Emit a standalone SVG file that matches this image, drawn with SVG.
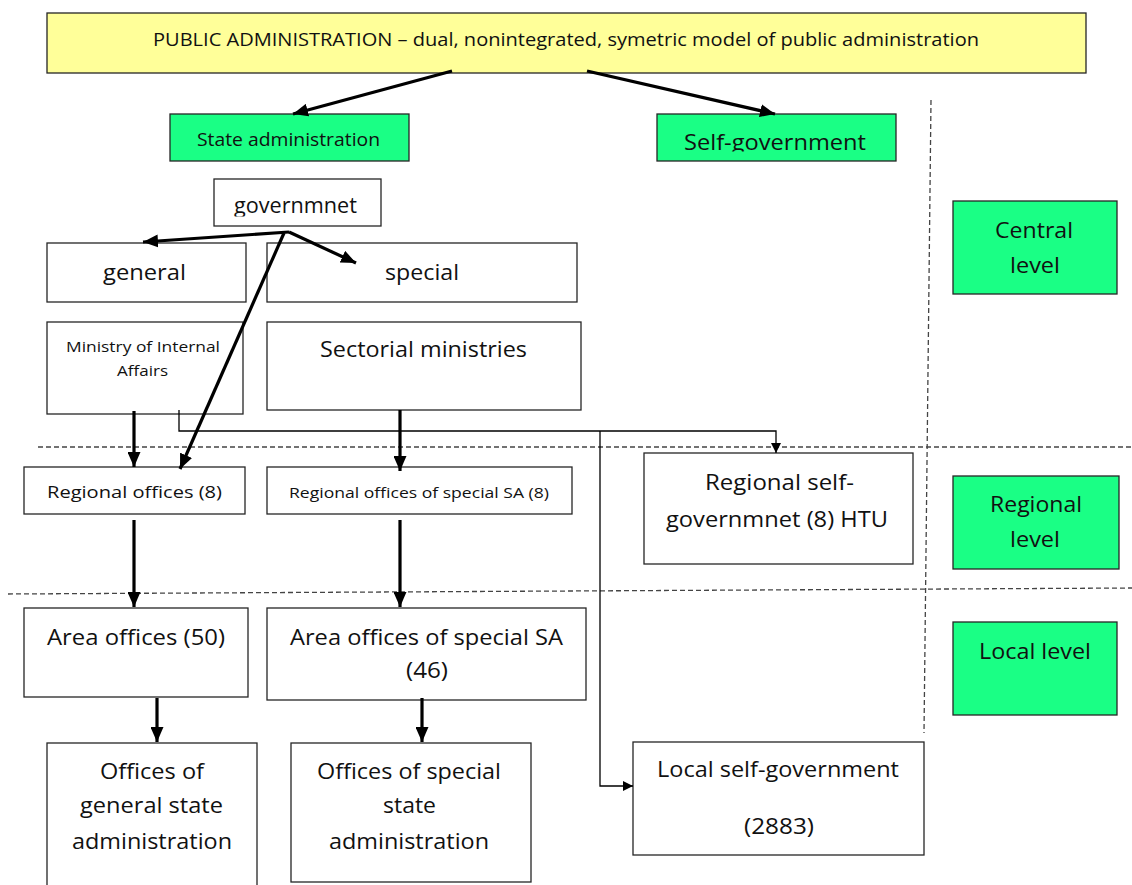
<svg xmlns="http://www.w3.org/2000/svg" width="1132" height="885" viewBox="0 0 1132 885">
<style>
.box{fill:#ffffff;stroke:#262626;stroke-width:1.3}
.green{fill:#1aff85;stroke:#262626;stroke-width:1.3}
.yellow{fill:#ffff99;stroke:#262626;stroke-width:1.3}
text{font-family:"Open Sans","Liberation Sans",sans-serif;fill:#111111}
.t21{font-size:21px}
.t18{font-size:18px}
.t16{font-size:16px}
.t15{font-size:15px}
.thick{fill:none;stroke:#000;stroke-width:3.2}
.thin{fill:none;stroke:#000;stroke-width:1.3}
.dash{fill:none;stroke:#444;stroke-width:1.3;stroke-dasharray:5 3}
</style>
<defs>
<marker id="ah" markerUnits="userSpaceOnUse" viewBox="0 0 15 13" refX="15" refY="6.5" markerWidth="15" markerHeight="13" orient="auto">
<path d="M0,0 L15,6.5 L0,13 z" fill="#000"/>
</marker>
<marker id="ahs" markerUnits="userSpaceOnUse" viewBox="0 0 10 10" refX="10" refY="5" markerWidth="10" markerHeight="10" orient="auto">
<path d="M0,0 L10,5 L0,10 z" fill="#000"/>
</marker>
<clipPath id="clipSelf"><rect x="657" y="114" width="239" height="37.5"/></clipPath>
<clipPath id="clipGov"><rect x="214" y="179" width="167" height="37.5"/></clipPath>
</defs>

<g id="dividers">
<path class="dash" d="M38,447 H1132"/>
<path class="dash" d="M8,594 L1132,588"/>
<path class="dash" d="M931,100 L924,733"/>
</g>

<g id="public-administration">
<rect class="yellow" x="47" y="13" width="1039" height="60"/>
<text class="t18" x="153" y="46" textLength="826" lengthAdjust="spacingAndGlyphs">PUBLIC ADMINISTRATION – dual, nonintegrated, symetric model of public administration</text>
</g>

<g id="state-administration">
<rect class="green" x="170" y="114" width="239" height="47"/>
<text class="t18" x="197" y="146" textLength="183" lengthAdjust="spacingAndGlyphs">State administration</text>
</g>

<g id="self-government">
<rect class="green" x="657" y="114" width="239" height="47"/>
<text class="t21" x="684" y="150" textLength="182" lengthAdjust="spacingAndGlyphs" clip-path="url(#clipSelf)">Self-government</text>
</g>

<g id="government">
<rect class="box" x="214" y="179" width="167" height="47"/>
<text class="t21" x="234" y="213" textLength="123" lengthAdjust="spacingAndGlyphs" clip-path="url(#clipGov)">governmnet</text>
</g>

<g id="general">
<rect class="box" x="47" y="243" width="199" height="59"/>
<text class="t21" x="103" y="280" textLength="83" lengthAdjust="spacingAndGlyphs">general</text>
</g>

<g id="special">
<rect class="box" x="267" y="243" width="310" height="59"/>
<text class="t21" x="385" y="280" textLength="74" lengthAdjust="spacingAndGlyphs">special</text>
</g>

<g id="ministry-internal">
<rect class="box" x="47" y="322" width="196" height="92"/>
<text class="t15" x="66" y="352" textLength="154" lengthAdjust="spacingAndGlyphs">Ministry of Internal</text>
<text class="t15" x="117" y="376" textLength="51" lengthAdjust="spacingAndGlyphs">Affairs</text>
</g>

<g id="sectorial-ministries">
<rect class="box" x="267" y="322" width="314" height="88"/>
<text class="t21" x="320" y="357" textLength="207" lengthAdjust="spacingAndGlyphs">Sectorial ministries</text>
</g>

<g id="regional-offices">
<rect class="box" x="24" y="467" width="221" height="47"/>
<text class="t16" x="47" y="498" textLength="175" lengthAdjust="spacingAndGlyphs">Regional offices (8)</text>
</g>

<g id="regional-offices-special">
<rect class="box" x="267" y="467" width="305" height="47"/>
<text class="t15" x="289" y="498" textLength="260" lengthAdjust="spacingAndGlyphs">Regional offices of special SA (8)</text>
</g>

<g id="regional-self-government">
<rect class="box" x="644" y="453" width="269" height="111"/>
<text class="t21" x="705" y="490" textLength="149" lengthAdjust="spacingAndGlyphs">Regional self-</text>
<text class="t21" x="666" y="527" textLength="222" lengthAdjust="spacingAndGlyphs">governmnet (8) HTU</text>
</g>

<g id="area-offices">
<rect class="box" x="24" y="608" width="224" height="89"/>
<text class="t21" x="47" y="645" textLength="178" lengthAdjust="spacingAndGlyphs">Area offices (50)</text>
</g>

<g id="area-offices-special">
<rect class="box" x="267" y="608" width="319" height="92"/>
<text class="t21" x="290" y="645" textLength="273" lengthAdjust="spacingAndGlyphs">Area offices of special SA</text>
<text class="t21" x="406" y="678" textLength="42" lengthAdjust="spacingAndGlyphs">(46)</text>
</g>

<g id="offices-general">
<rect class="box" x="47" y="743" width="210" height="150"/>
<text class="t21" x="100" y="779" textLength="104" lengthAdjust="spacingAndGlyphs">Offices of</text>
<text class="t21" x="80" y="813" textLength="143" lengthAdjust="spacingAndGlyphs">general state</text>
<text class="t21" x="72" y="849" textLength="160" lengthAdjust="spacingAndGlyphs">administration</text>
</g>

<g id="offices-special">
<rect class="box" x="291" y="743" width="240" height="139"/>
<text class="t21" x="317" y="779" textLength="184" lengthAdjust="spacingAndGlyphs">Offices of special</text>
<text class="t21" x="383" y="813" textLength="53" lengthAdjust="spacingAndGlyphs">state</text>
<text class="t21" x="329" y="849" textLength="160" lengthAdjust="spacingAndGlyphs">administration</text>
</g>

<g id="local-self-government">
<rect class="box" x="633" y="742" width="291" height="113"/>
<text class="t21" x="657" y="777" textLength="242" lengthAdjust="spacingAndGlyphs">Local self-government</text>
<text class="t21" x="744" y="834" textLength="70" lengthAdjust="spacingAndGlyphs">(2883)</text>
</g>

<g id="central-level">
<rect class="green" x="953" y="201" width="164" height="93"/>
<text class="t21" x="995" y="238" textLength="78" lengthAdjust="spacingAndGlyphs">Central</text>
<text class="t21" x="1010" y="273" textLength="50" lengthAdjust="spacingAndGlyphs">level</text>
</g>

<g id="regional-level">
<rect class="green" x="953" y="476" width="166" height="93"/>
<text class="t21" x="990" y="512" textLength="92" lengthAdjust="spacingAndGlyphs">Regional</text>
<text class="t21" x="1010" y="547" textLength="50" lengthAdjust="spacingAndGlyphs">level</text>
</g>

<g id="local-level">
<rect class="green" x="953" y="622" width="164" height="93"/>
<text class="t21" x="979" y="659" textLength="112" lengthAdjust="spacingAndGlyphs">Local level</text>
</g>

<g id="connectors">
<path class="thick" d="M452,71 L293,114" marker-end="url(#ah)"/>
<path class="thick" d="M587,71 L775,114" marker-end="url(#ah)"/>
<path class="thick" d="M289,232 L143,242" marker-end="url(#ah)"/>
<path class="thick" d="M289,232 L356,263" marker-end="url(#ah)"/>
<path class="thick" d="M284,233 L180,469" marker-end="url(#ah)"/>
<path class="thick" d="M134,411 L134,467" marker-end="url(#ah)"/>
<path class="thick" d="M400,410 L400,471" marker-end="url(#ah)"/>
<path class="thick" d="M134,520 L134,607" marker-end="url(#ah)"/>
<path class="thick" d="M400,520 L400,607" marker-end="url(#ah)"/>
<path class="thick" d="M157,698 L157,742" marker-end="url(#ah)"/>
<path class="thick" d="M422,698 L422,742" marker-end="url(#ah)"/>
<path class="thin" d="M179,410 V431 H776 V453" marker-end="url(#ahs)"/>
<path class="thin" d="M600,431 V786 H633" marker-end="url(#ahs)"/>
</g>
</svg>
